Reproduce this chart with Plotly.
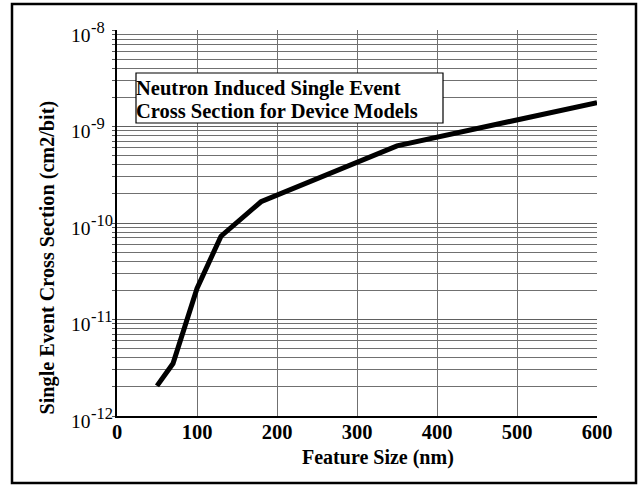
import plotly.graph_objects as go

feature_nm = [50, 70, 100, 130, 180, 350, 600]
cross_section = [2.05e-12, 3.5e-12, 2.1e-11, 7.3e-11, 1.66e-10, 6.3e-10, 1.77e-9]

x_ticks = [0, 100, 200, 300, 400, 500, 600]
x_ticktext = ["<b>%d</b>" % v for v in x_ticks]
y_exponents = [-12, -11, -10, -9, -8]

W, H = 639, 485
L, R, T, B = 117, 597, 30, 416
pw, ph = R - L, B - T

def px(xp):
    return (xp - L) / pw

def py(yp):
    return (B - yp) / ph

FONT = "Liberation Serif"

fig = go.Figure()
fig.add_trace(go.Scatter(
    x=feature_nm, y=cross_section, mode="lines",
    line=dict(color="black", width=5),
    showlegend=False, hoverinfo="skip"))

fig.update_layout(
    width=W, height=H,
    margin=dict(l=L, r=W - R, t=T, b=H - B),
    paper_bgcolor="white", plot_bgcolor="white",
    font=dict(family=FONT, color="black", size=16),
    xaxis=dict(
        range=[0, 600], tickvals=x_ticks, ticktext=x_ticktext, ticks="",
        ticklabelstandoff=-3,
        showgrid=True, gridcolor="#707070", gridwidth=1,
        showline=True, linecolor="black", linewidth=1.5,
        zeroline=False,
        tickfont=dict(family=FONT, size=20.5, color="black"),
    ),
    yaxis=dict(
        type="log", range=[-12, -8],
        tickvals=[10.0 ** e for e in y_exponents], showticklabels=False, ticks="",
        showgrid=True, gridcolor="#606060", gridwidth=1,
        minor=dict(dtick="D1", showgrid=True, gridcolor="#707070",
                   gridwidth=1, ticks="outside", ticklen=3, tickcolor="#555"),
        showline=True, linecolor="black", linewidth=1.5,
        zeroline=False,
    ),
)

# y tick labels "10" with raised exponent, left aligned like the original
for e in y_exponents:
    fig.add_annotation(xref="paper", yref="y", x=px(69), y=e, xanchor="left", yanchor="middle",
                       showarrow=False, yshift=-5, text="10",
                       font=dict(family=FONT, size=19.5, color="black"))
    fig.add_annotation(xref="paper", yref="y", x=px(89), y=e, xanchor="left", yanchor="middle",
                       showarrow=False, yshift=3, text="%d" % e,
                       font=dict(family=FONT, size=16.5, color="black"))

# axis titles
fig.add_annotation(xref="paper", yref="paper", x=px(47), y=py(257.5), textangle=-90,
                   xanchor="center", yanchor="middle", showarrow=False,
                   text="<b>Single Event Cross Section (cm2/bit)</b>",
                   font=dict(family=FONT, size=20.2, color="black"))
fig.add_annotation(xref="paper", yref="paper", x=px(378), y=py(457),
                   xanchor="center", yanchor="middle", showarrow=False,
                   text="<b>Feature Size (nm)</b>",
                   font=dict(family=FONT, size=20, color="black"))

# outer frame
fig.add_shape(type="rect", xref="paper", yref="paper",
              x0=px(12), x1=px(636), y0=py(483), y1=py(4),
              line=dict(color="black", width=2.5), layer="below")

# title box
fig.add_shape(type="rect", xref="paper", yref="paper",
              x0=px(136), x1=px(443), y0=py(123), y1=py(73),
              line=dict(color="black", width=1.2), fillcolor="white", layer="above")
for txt, yc in [("Neutron Induced Single Event", 88), ("Cross Section for Device Models", 111)]:
    fig.add_annotation(xref="paper", yref="paper", x=px(134), y=py(yc),
                       xanchor="left", yanchor="middle", align="left", showarrow=False,
                       text="<b>%s</b>" % txt,
                       font=dict(family=FONT, size=20.5, color="black"))

fig.write_html("out.html")
